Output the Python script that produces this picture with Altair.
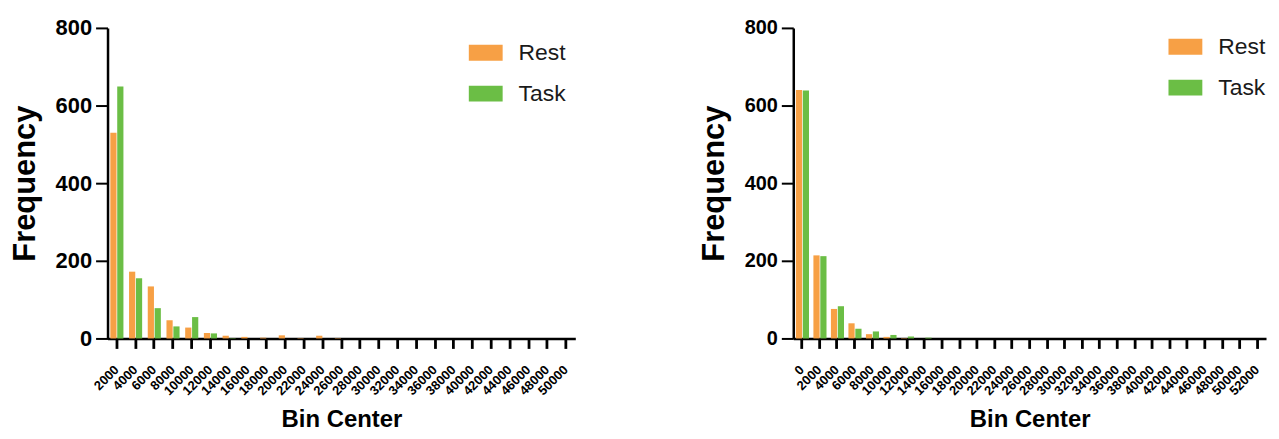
import altair as alt
import pandas as pd

ORANGE = "#F7A045"
GREEN = "#6BBE45"
FONT = "Liberation Sans"

left_bins = ["2000", "4000", "6000", "8000", "10000", "12000", "14000", "16000", "18000",
             "20000", "22000", "24000", "26000", "28000", "30000", "32000", "34000", "36000",
             "38000", "40000", "42000", "44000", "46000", "48000", "50000"]
left_rest = [530, 172, 134, 47, 28, 14, 7, 4, 2, 8, 1, 7, 1, 0, 0, 0, 0, 0, 0, 0, 0, 0, 0, 0, 0]
left_task = [649, 155, 78, 31, 55, 13, 1, 0, 0, 0, 0, 0, 0, 0, 0, 0, 0, 0, 0, 0, 0, 0, 0, 0, 0]

right_bins = ["0", "2000", "4000", "6000", "8000", "10000", "12000", "14000", "16000", "18000",
              "20000", "22000", "24000", "26000", "28000", "30000", "32000", "34000", "36000",
              "38000", "40000", "42000", "44000", "46000", "48000", "50000", "52000"]
right_rest = [640, 214, 76, 39, 11, 4, 1, 0, 0, 0, 0, 0, 0, 0, 0, 0, 0, 0, 0, 0, 0, 0, 0, 0, 0, 0, 0]
right_task = [639, 212, 83, 25, 18, 9, 5, 2, 0, 0, 0, 0, 0, 0, 0, 0, 0, 0, 0, 0, 0, 0, 0, 0, 0, 0, 0]

groups = ["Rest", "Task"]
y_ticks = [0, 200, 400, 600, 800]

RECT = "M-1,-0.47L1,-0.47L1,0.47L-1,0.47Z"


def panel(bins, rest, task, w, h, lx, ly, label_size, title_pad):
    df = pd.DataFrame({
        "bin": bins + bins,
        "group": [groups[0]] * len(bins) + [groups[1]] * len(bins),
        "value": rest + task,
    })
    return alt.Chart(df).mark_bar().encode(
        x=alt.X("bin:N", sort=bins,
                scale=alt.Scale(paddingInner=0.3, paddingOuter=0.15),
                axis=alt.Axis(title="Bin Center", labelAngle=-45, labelAlign="right",
                              labelBaseline="middle", labelFontSize=13, labelFontWeight="bold",
                              labelPadding=19, tickSize=10, titleFontSize=24,
                              titlePadding=10, grid=False, domainColor="#000000",
                              domainWidth=2.5, tickColor="#000000", tickWidth=2.8)),
        xOffset=alt.XOffset("group:N", sort=groups, scale=alt.Scale(paddingInner=0.1)),
        y=alt.Y("value:Q", scale=alt.Scale(domain=[0, 800], nice=False),
                axis=alt.Axis(title="Frequency", values=y_ticks, labelFontSize=label_size,
                              labelFontWeight="bold", tickSize=12, labelPadding=4,
                              titleFontSize=31, titlePadding=title_pad, grid=False,
                              domainColor="#000000", domainWidth=2.5,
                              tickColor="#000000", tickWidth=2)),
        color=alt.Color("group:N",
                        scale=alt.Scale(domain=groups, range=[ORANGE, GREEN]),
                        legend=alt.Legend(title=None, orient="none", legendX=lx, legendY=ly,
                                          symbolType=RECT, symbolSize=1156,
                                          symbolStrokeWidth=0, labelFontSize=23,
                                          labelFont=FONT, labelColor="#1a1a1a",
                                          labelOffset=16, rowPadding=12)),
    ).properties(width=w, height=h)


left = panel(left_bins, left_rest, left_task, 470, 312, 363, 8, 22, 14)
right = panel(right_bins, right_rest, right_task, 475, 312, 377, 2, 20, 14)

chart = alt.hconcat(left, right, spacing=123).resolve_legend(
    color="independent"
).properties(
    padding={"left": 1, "top": 8, "right": 5, "bottom": 0},
    background="#ffffff",
).configure_axis(
    labelColor="#000000", titleColor="#000000", labelFont=FONT, titleFont=FONT,
    titleFontWeight="bold", grid=False,
).configure_view(stroke=None)

chart.save("out.html", embed_options={"renderer": "svg", "actions": False})
